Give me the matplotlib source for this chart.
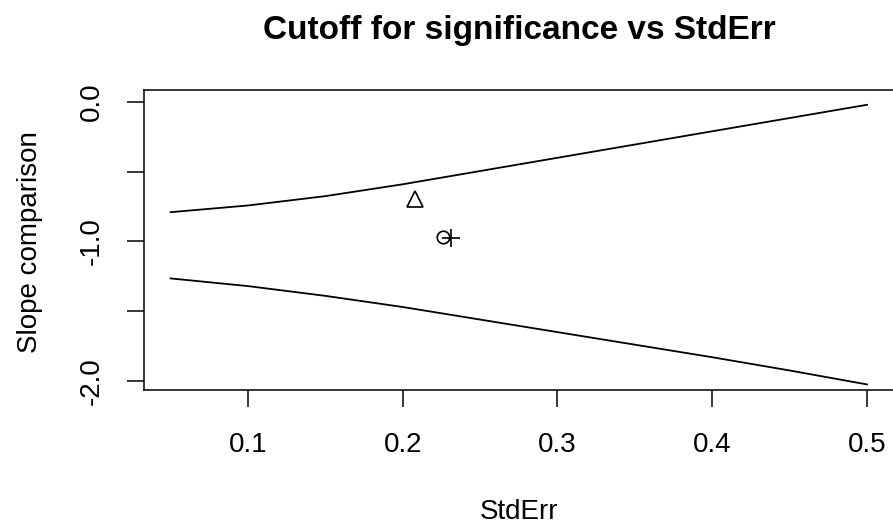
from matplotlib import pyplot as plt
import numpy as np

plt.rcParams['font.family'] = ['Liberation Sans', 'DejaVu Sans']

# cutoff curves
std_err = [0.05, 0.10, 0.15, 0.20, 0.25, 0.30, 0.35, 0.40, 0.45, 0.50]
upper_cut = [-0.79, -0.742, -0.675, -0.59, -0.495, -0.40, -0.305, -0.21, -0.115, -0.02]
lower_cut = [-1.265, -1.32, -1.39, -1.47, -1.56, -1.65, -1.74, -1.83, -1.925, -2.025]

# the three estimates
tri_x, tri_y = [0.208], [-0.695]
circ_x, circ_y = [0.226], [-0.968]
plus_x, plus_y = [0.231], [-0.972]

x_ticks = [0.1, 0.2, 0.3, 0.4, 0.5]
x_labels = ['0.1', '0.2', '0.3', '0.4', '0.5']
y_ticks = [0.0, -0.5, -1.0, -1.5, -2.0]
y_labels = ['0.0', '', '-1.0', '', '-2.0']

W, H = 893, 529
fig = plt.figure(figsize=(W / 100, H / 100), dpi=100)
ax = fig.add_axes([144 / W, 1 - 390 / H, (895 - 144) / W, 300 / H])

ax.plot(std_err, upper_cut, color='black', lw=1.3)
ax.plot(std_err, lower_cut, color='black', lw=1.3)
ax.plot(tri_x, tri_y, marker='^', ms=12, mfc='none', mec='black', mew=1.2, ls='none')
ax.plot(circ_x, circ_y, marker='o', ms=9, mfc='none', mec='black', mew=1.2, ls='none')
ax.plot(plus_x, plus_y, marker='+', ms=13, mec='black', mew=1.2, ls='none')

ax.set_xlim(0.0328, 0.5181)
ax.set_ylim(-2.065, 0.086)

ax.set_xticks(x_ticks)
ax.set_xticklabels(x_labels)
ax.set_yticks(y_ticks)
ax.set_yticklabels(y_labels)
ax.tick_params(axis='both', length=12, width=1.1, labelsize=20, direction='out')
ax.tick_params(axis='x', pad=18)
ax.tick_params(axis='y', pad=16)
plt.setp(ax.get_yticklabels(), rotation=90, va='center')

for sp in ax.spines.values():
    sp.set_linewidth(1.1)

fig.text(519 / W, 1 - 30 / H, 'Cutoff for significance vs StdErr', ha='center', va='center',
         fontsize=24, fontweight='bold')
fig.text(519 / W, 1 - 512 / H, 'StdErr', ha='center', va='center', fontsize=20)
fig.text(30 / W, 1 - 242 / H, 'Slope comparison', ha='center', va='center', fontsize=20, rotation=90)

fig.savefig('out.png', dpi=100)
